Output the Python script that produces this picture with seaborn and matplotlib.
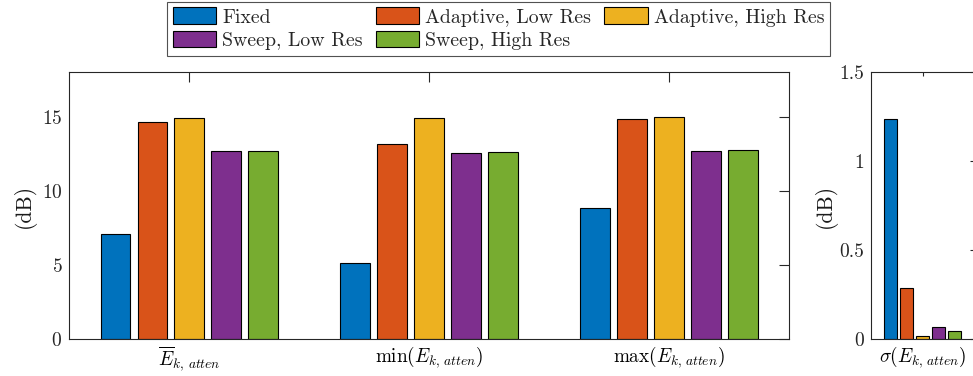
import matplotlib
matplotlib.use("Agg")
import matplotlib.pyplot as plt
import matplotlib.patches as mpatches
from matplotlib.ticker import FuncFormatter
import seaborn as sns
import pandas as pd

methods = ["Fixed", "Adaptive, Low Res", "Adaptive, High Res", "Sweep, Low Res", "Sweep, High Res"]
colors = ["#0072BD", "#D95319", "#EDB120", "#7E2F8E", "#77AC30"]

metrics_left = [r"$\overline{E}_{k,\,atten}$", r"$\min(E_{k,\,atten})$", r"$\max(E_{k,\,atten})$"]
mean_vals = [7.09, 14.67, 14.94, 12.65, 12.71]
min_vals = [5.09, 13.16, 14.90, 12.54, 12.62]
max_vals = [8.80, 14.85, 14.99, 12.69, 12.78]

metric_right = [r"$\sigma(E_{k,\,atten})$"]
std_vals = [1.236, 0.288, 0.017, 0.066, 0.041]

rows = []
for m, vals in zip(metrics_left, [mean_vals, min_vals, max_vals]):
    for meth, v in zip(methods, vals):
        rows.append({"metric": m, "method": meth, "value": v})
df_left = pd.DataFrame(rows)
df_right = pd.DataFrame({"metric": metric_right * len(methods), "method": methods, "value": std_vals})

sns.set_style("white")
plt.rcParams["font.family"] = "serif"
plt.rcParams["font.serif"] = ["cmr10", "DejaVu Serif"]
plt.rcParams["mathtext.fontset"] = "cm"
plt.rcParams["axes.unicode_minus"] = False
plt.rcParams["axes.formatter.use_mathtext"] = True

FS_TICK = 14
FS_X = 13.8
FS_LAB = 15.5
FS_LEG = 14.3
axcol = "#262626"

fig = plt.figure(figsize=(9.73, 3.76), dpi=100)
W, H = 973.0, 376.0
ax1 = fig.add_axes([69.3 / W, (H - 338.7) / H, (789 - 69.3) / W, (338.7 - 72.3) / H])
ax2 = fig.add_axes([871 / W, (H - 338.7) / H, (974 - 871) / W, (338.7 - 72.3) / H])

pal = dict(zip(methods, colors))
sns.barplot(data=df_left, x="metric", y="value", hue="method", order=metrics_left,
            hue_order=methods, palette=pal, saturation=1, width=0.77, gap=0.2,
            edgecolor="black", linewidth=0.8, ax=ax1, legend=False)
sns.barplot(data=df_right, x="metric", y="value", hue="method", order=metric_right,
            hue_order=methods, palette=pal, saturation=1, width=0.77, gap=0.2,
            edgecolor="black", linewidth=0.8, ax=ax2, legend=False)

ax1.set_xlim(-0.5, 2.5)
ax1.set_ylim(0, 18)
ax1.set_yticks([0, 5, 10, 15])
ax2.set_xlim(-0.5, 0.5)
ax2.set_ylim(0, 1.5)
ax2.set_yticks([0, 0.5, 1, 1.5])
ax2.yaxis.set_major_formatter(FuncFormatter(lambda v, p: "%g" % v))

for ax, tl, lp in [(ax1, 7, 4), (ax2, 3, 2)]:
    ax.set_xlabel("")
    ax.set_ylabel("(dB)", fontsize=FS_LAB, color="#1a1a1a", labelpad=lp)
    ax.tick_params(direction="in", length=tl, width=0.8, top=True, right=True,
                   colors=axcol, labelsize=FS_TICK, pad=5)
    ax.tick_params(axis="x", labelsize=FS_X, pad=4)
    for s in ax.spines.values():
        s.set_visible(True)
        s.set_color(axcol)
        s.set_linewidth(0.8)
    for lab in ax.get_xticklabels():
        lab.set_color("black")

handles = [mpatches.Patch(facecolor=c, edgecolor="black", linewidth=0.8, label=m)
           for m, c in zip(methods, colors)]
order = [0, 3, 1, 4, 2]
leg = fig.legend([handles[i] for i in order], [methods[i] for i in order], ncol=3,
                 loc="upper center", bbox_to_anchor=(498.5 / W, 1 - 1.5 / H),
                 fontsize=FS_LEG, frameon=True, fancybox=False, edgecolor=axcol,
                 handlelength=2.2, handleheight=0.9, handletextpad=0.3,
                 columnspacing=0.65, labelspacing=0.2, borderpad=0.3, borderaxespad=0)
leg.get_frame().set_linewidth(0.8)

fig.savefig("out.png", dpi=100)
